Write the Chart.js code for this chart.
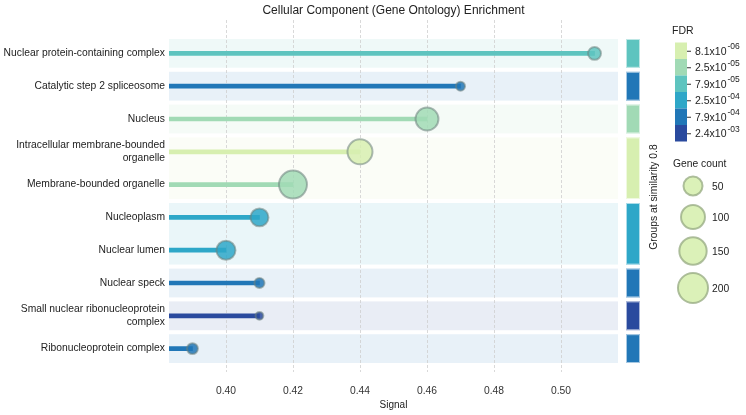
<!DOCTYPE html>
<html>
<head>
<meta charset="utf-8">
<script src="https://cdn.jsdelivr.net/npm/chart.js@4.4.1/dist/chart.umd.min.js"></script>
<style>
  html, body { margin: 0; padding: 0; background: #fff; }
  #wrap { width: 746px; height: 415px; }
</style>
</head>
<body>
<div id="wrap"><canvas id="myChart"></canvas></div>
<script>
// data
const terms = [
    'Nuclear protein-containing complex',
    'Catalytic step 2 spliceosome',
    'Nucleus',
    ['Intracellular membrane-bounded', 'organelle'],
    'Membrane-bounded organelle',
    'Nucleoplasm',
    'Nuclear lumen',
    'Nuclear speck',
    ['Small nuclear ribonucleoprotein', 'complex'],
    'Ribonucleoprotein complex'
];
const signal = [0.51, 0.47, 0.46, 0.44, 0.42, 0.41, 0.40, 0.41, 0.41, 0.39];
const fdr = [7.6e-5, 8.0e-4, 2.6e-5, 8.3e-6, 2.4e-5, 2.5e-4, 2.6e-4, 7.7e-4, 2.3e-3, 8.2e-4];
const geneCount = [16, 6, 88, 114, 161, 42, 50, 8, 4, 10];
const groupOf = [1, 2, 3, 4, 4, 5, 5, 6, 7, 8];

const xTicks = [0.40, 0.42, 0.44, 0.46, 0.48, 0.50];
const fdrTicks = [8.1e-6, 2.5e-5, 7.9e-5, 2.5e-4, 7.9e-4, 2.4e-3];
const fdrColors = ['#d7efb0', '#a1dab5', '#5ec4bf', '#2ea7c8', '#2177b7', '#2a4a9e'];
const sizeTicks = [50, 100, 150, 200];

const FONT = '"Liberation Sans", Arial, sans-serif';

function fdrColor(v) {
    let best = 0, d = Infinity;
    fdrTicks.forEach((t, i) => {
        const dd = Math.abs(Math.log10(v) - Math.log10(t));
        if (dd < d) { d = dd; best = i; }
    });
    return fdrColors[best];
}
// outer diameter of a circle for a gene count
function sizeOf(c) { return 6.4 * Math.pow(c, 0.304); }

const colors = fdr.map(fdrColor);

// groups -> first/last row and colour of the best FDR
let groups = [];
groupOf.forEach((g, i) => {
    let gr = groups.find(o => o.id === g);
    if (!gr) { gr = {id: g, first: i, last: i, best: fdr[i]}; groups.push(gr); }
    gr.last = i;
    if (fdr[i] < gr.best) gr.best = fdr[i];
});
groups.forEach(g => g.color = fdrColor(g.best));

function alpha(hex, a) {
    const n = parseInt(hex.slice(1), 16);
    return 'rgba(' + (n >> 16) + ',' + ((n >> 8) & 255) + ',' + (n & 255) + ',' + a + ')';
}

const extras = {
    id: 'extras',
    beforeDatasetsDraw(chart) {
        const {ctx, chartArea: a, scales: {x, y}} = chart;
        const half = (y.getPixelForValue(1) - y.getPixelForValue(0)) / 2 - 2;
        ctx.save();
        groups.forEach(g => {
            const t = y.getPixelForValue(g.first) - half;
            const b = y.getPixelForValue(g.last) + half;
            ctx.fillStyle = alpha(g.color, 0.1);
            ctx.fillRect(a.left, t, a.right - a.left, b - t);
        });
        ctx.strokeStyle = '#cfcfcf';
        ctx.lineWidth = 0.8;
        ctx.setLineDash([3, 2]);
        xTicks.forEach(v => {
            const px = Math.round(x.getPixelForValue(v)) + 0.5;
            ctx.beginPath();
            ctx.moveTo(px, a.top - 17);
            ctx.lineTo(px, a.bottom + 7);
            ctx.stroke();
        });
        ctx.restore();
    },
    afterDraw(chart) {
        const {ctx, chartArea: a, scales: {y}} = chart;
        const half = (y.getPixelForValue(1) - y.getPixelForValue(0)) / 2 - 2;
        ctx.save();
        // title
        ctx.fillStyle = '#222';
        ctx.font = '12px ' + FONT;
        ctx.textAlign = 'center';
        ctx.textBaseline = 'middle';
        ctx.fillText('Cellular Component (Gene Ontology) Enrichment', (a.left + a.right) / 2, 11);

        // group bars
        groups.forEach(g => {
            const t = y.getPixelForValue(g.first) - half;
            const b = y.getPixelForValue(g.last) + half;
            ctx.fillStyle = g.color;
            ctx.fillRect(a.right + 8, t, 14, b - t);
            ctx.strokeStyle = 'rgba(255,255,255,0.6)';
            ctx.lineWidth = 1;
            ctx.strokeRect(a.right + 8.5, t + 0.5, 13, b - t - 1);
        });
        ctx.save();
        ctx.translate(654, 197);
        ctx.rotate(-Math.PI / 2);
        ctx.font = '10.3px ' + FONT;
        ctx.fillStyle = '#222';
        ctx.fillText('Groups at similarity 0.8', 0, 0);
        ctx.restore();

        // FDR colour bar
        ctx.textAlign = 'left';
        ctx.font = '10.5px ' + FONT;
        ctx.fillStyle = '#222';
        ctx.fillText('FDR', 672, 31);
        const segH = 16.5, top = 42.5;
        fdrTicks.forEach((t, i) => {
            const yy = top + i * segH;
            ctx.fillStyle = fdrColors[i];
            ctx.fillRect(675, yy, 12, segH);
            const cy = yy + segH / 2;
            ctx.strokeStyle = '#333';
            ctx.lineWidth = 1;
            ctx.beginPath();
            ctx.moveTo(687, cy + 0.5);
            ctx.lineTo(691, cy + 0.5);
            ctx.stroke();
            const parts = t.toExponential(1).split('e');
            let ex = parseInt(parts[1], 10);
            const exTxt = (ex < 0 ? '-' : '') + String(Math.abs(ex)).padStart(2, '0');
            ctx.fillStyle = '#222';
            ctx.font = '10.5px ' + FONT;
            ctx.fillText(parts[0] + 'x10', 695, cy + 1);
            const w = ctx.measureText(parts[0] + 'x10').width;
            ctx.font = '8.5px ' + FONT;
            ctx.fillText(exTxt, 695 + w + 1, cy - 4);
        });

        // gene count legend
        ctx.font = '10.3px ' + FONT;
        ctx.fillStyle = '#222';
        ctx.fillText('Gene count', 673, 164);
        const cys = [186, 217, 251, 288];
        sizeTicks.forEach((c, i) => {
            const r = sizeOf(c) / 2 - 1;
            ctx.beginPath();
            ctx.arc(693, cys[i], r, 0, Math.PI * 2);
            ctx.fillStyle = alpha(fdrColors[0], 0.9);
            ctx.fill();
            ctx.lineWidth = 2;
            ctx.strokeStyle = 'rgba(150,170,130,0.75)';
            ctx.stroke();
            ctx.fillStyle = '#222';
            ctx.font = '10.3px ' + FONT;
            ctx.fillText(String(c), 712, cys[i] + 1);
        });
        ctx.restore();
    }
};

const ctx = document.getElementById('myChart').getContext('2d');
const myChart = new Chart(ctx, {
    type: 'bar',
    data: {
        labels: terms,
        datasets: [{
            label: 'stem',
            data: signal,
            backgroundColor: colors,
            barThickness: 4,
            order: 2
        }, {
            type: 'bubble',
            label: 'count',
            data: signal.map((v, i) => ({x: v, y: i, c: geneCount[i]})),
            radius: c => sizeOf(c.raw.c) / 2 - 1,
            backgroundColor: colors.map(c => alpha(c, 0.85)),
            borderColor: 'rgba(110,130,125,0.55)',
            borderWidth: 2,
            order: 1
        }]
    },
    options: {
        indexAxis: 'y',
        responsive: true,
        maintainAspectRatio: false,
        animation: false,
        layout: { padding: { top: 37, right: 128, left: 0, bottom: 0 } },
        plugins: { legend: { display: false }, tooltip: { enabled: false } },
        scales: {
            x: {
                type: 'linear',
                position: 'bottom',
                min: 0.383,
                max: 0.517,
                afterBuildTicks: s => { s.ticks = xTicks.map(v => ({value: v})); },
                afterFit: s => { s.height = 50; },
                grid: { display: false, drawTicks: false },
                border: { display: false },
                ticks: {
                    padding: 20,
                    color: '#333',
                    font: { family: FONT, size: 10.3 },
                    callback: v => v.toFixed(2)
                },
                title: {
                    display: true,
                    text: 'Signal',
                    color: '#222',
                    font: { family: FONT, size: 10 },
                    padding: { top: 0, bottom: 4 }
                }
            },
            y: {
                type: 'category',
                position: 'left',
                afterFit: s => { s.width = 169; },
                grid: { display: false, drawTicks: false },
                border: { display: false },
                ticks: {
                    padding: 4,
                    color: '#222',
                    font: { family: FONT, size: 10.3, lineHeight: 1.2 }
                }
            }
        }
    },
    plugins: [extras]
});
</script>
</body>
</html>
